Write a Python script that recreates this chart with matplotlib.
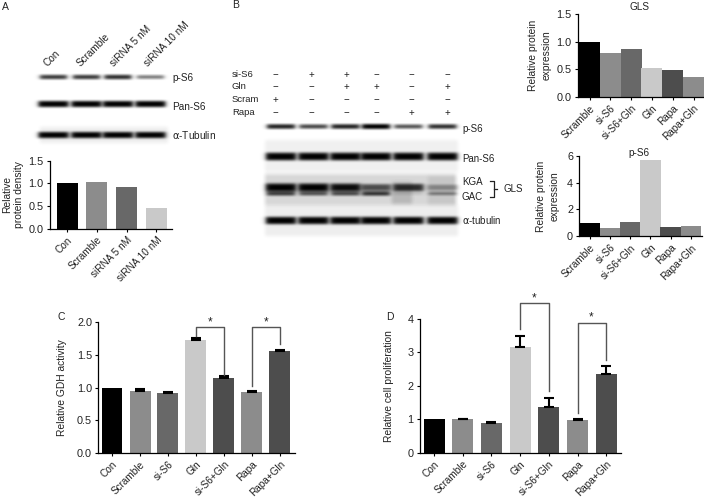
import matplotlib
matplotlib.use("Agg")
import matplotlib.pyplot as plt
import numpy as np

plt.rcParams["font.family"] = ["Liberation Sans", "DejaVu Sans"]
plt.rcParams["font.size"] = 7.2

W, H = 704, 499
BLACK, MID, DARK, LIGHT, DEEP = "#000000", "#8c8c8c", "#686868", "#c9c9c9", "#4d4d4d"
TEXT = "#222222"

# bar charts
a_labels = ["Con", "Scramble", "siRNA 5 nM", "siRNA 10 nM"]
a_values = [1.0, 1.03, 0.93, 0.46]
a_colors = [BLACK, MID, DARK, LIGHT]

b_labels = ["Scramble", "si-S6", "si-S6+Gln", "Gln", "Rapa", "Rapa+Gln"]
b_colors = [BLACK, MID, DARK, LIGHT, DEEP, MID]
gls_values = [1.0, 0.79, 0.87, 0.53, 0.48, 0.37]
ps6_values = [1.0, 0.6, 1.1, 5.65, 0.68, 0.8]

cd_labels = ["Con", "Scramble", "si-S6", "Gln", "si-S6+Gln", "Rapa", "Rapa+Gln"]
cd_colors = [BLACK, MID, DARK, LIGHT, DEEP, MID, DEEP]
gdh_values = [1.0, 0.95, 0.91, 1.72, 1.15, 0.93, 1.56]
gdh_errors = [0, 0.02, 0.015, 0.03, 0.03, 0.01, 0.005]
prolif_values = [1.02, 1.0, 0.89, 3.16, 1.37, 0.99, 2.34]
prolif_errors = [0, 0.01, 0.02, 0.32, 0.26, 0.01, 0.25]

# blot band strengths per lane
a_blot_lanes = [53, 86, 117.5, 150]
a_ps6 = [0.75, 0.75, 0.8, 0.5]
a_pan = [1.0, 1.0, 1.0, 1.0]
a_tub = [1.0, 1.0, 1.0, 1.0]

b_blot_lanes = [280.5, 313, 345, 375.5, 408, 442]
b_ps6 = [0.85, 0.7, 0.85, 1.0, 0.65, 0.8]
b_pan = [1.0, 1.0, 1.0, 1.0, 1.0, 1.0]
b_kga = [1.0, 1.0, 0.95, 0.65, 0.8, 0.35]
b_gac = [0.7, 0.6, 0.65, 0.75, 0.1, 0.4]
b_tub = [1.0, 1.0, 1.0, 1.0, 1.0, 1.0]

# treatment grid of panel B
grid_names = ["si-S6", "Gln", "Scram", "Rapa"]
grid_signs = ["-++---", "--++-+", "+-----", "----++"]
grid_x = [275, 311, 346, 376, 411, 447]
grid_y = [75, 87, 100, 113]


def add_bands(img, lanes, strengths, cy, half_w, thick):
    yy, xx = np.mgrid[0:H, 0:W]
    for cx, s in zip(lanes, strengths):
        across = 0.5 * (np.tanh((xx - cx + half_w) / 2.5) - np.tanh((xx - cx - half_w) / 2.5))
        along = np.exp(-(((yy - cy) / (thick * (0.55 + 0.45 * s))) ** 4))
        img *= 1 - s * across * along


def add_patch_shade(img, x0, x1, y0, y1, level):
    img[y0:y1, x0:x1] = np.minimum(img[y0:y1, x0:x1], level)


def soften(img, size):
    # box blur on the darkness, so the white page edges stay white
    kernel = np.ones(size) / size
    out = np.apply_along_axis(lambda r: np.convolve(r, kernel, mode="same"), 1, 1 - img)
    out = np.apply_along_axis(lambda c: np.convolve(c, kernel, mode="same"), 0, out)
    return 1 - out


canvas = np.ones((H, W))
add_patch_shade(canvas, 40, 168, 127, 143, 0.93)
add_patch_shade(canvas, 265, 458, 140, 172, 0.94)
add_patch_shade(canvas, 265, 456, 174, 205, 0.84)
add_patch_shade(canvas, 265, 458, 205, 236, 0.93)
add_patch_shade(canvas, 392, 412, 182, 204, 0.72)
add_patch_shade(canvas, 428, 456, 176, 205, 0.78)
canvas = soften(canvas, 5)
add_bands(canvas, a_blot_lanes, a_ps6, 76.5, 13.5, 2.6)
add_bands(canvas, a_blot_lanes, a_pan, 103.5, 15, 3.2)
add_bands(canvas, a_blot_lanes, a_tub, 134.5, 15, 3.2)
add_bands(canvas, b_blot_lanes, b_ps6, 126, 14, 2.6)
add_bands(canvas, b_blot_lanes, b_pan, 156, 15, 4.0)
add_bands(canvas, b_blot_lanes, b_kga, 187, 15, 4.2)
add_bands(canvas, b_blot_lanes, b_gac, 193, 14, 2.6)
add_bands(canvas, b_blot_lanes, b_tub, 220, 15, 3.8)
canvas = soften(canvas, 3)

fig = plt.figure(figsize=(W / 100, H / 100), dpi=100)
bg = fig.add_axes([0, 0, 1, 1], zorder=0)
bg.imshow(canvas, cmap="gray", vmin=0, vmax=1, interpolation="bilinear", extent=(0, W, H, 0), aspect="auto")
bg.set_xlim(0, W)
bg.set_ylim(H, 0)
bg.axis("off")


def note(x, y, s, **kw):
    kw.setdefault("ha", "left")
    kw.setdefault("va", "center")
    kw.setdefault("color", TEXT)
    bg.text(x, y, s, **kw)


def bar_panel(left, right, bottom, top, first, step, width, values, colors, labels, ymax, yticks,
              fmt, ylabel, errors=None, lab_x=None, spacing=1.2):
    ax = fig.add_axes([left / W, 1 - bottom / H, (right - left) / W, (bottom - top) / H], zorder=2)
    ax.patch.set_visible(False)
    xs = np.arange(len(values))
    ax.bar(xs, values, width=width / step, color=colors, linewidth=0)
    if errors is not None:
        shown = [i for i, e in enumerate(errors) if e > 0]
        ax.errorbar(shown, [values[i] for i in shown], yerr=[[0] * len(shown), [errors[i] for i in shown]],
                    fmt="none", ecolor="black", elinewidth=1.5, capsize=3.8, capthick=1.5)
    ax.set_xlim((left - first) / step, (right - first) / step)
    ax.set_ylim(0, ymax)
    ax.set_yticks(yticks)
    ax.set_yticklabels([fmt % t for t in yticks], fontsize=7.8, color=TEXT)
    ax.set_xticks(xs)
    ax.set_xticklabels(labels, rotation=45, ha="right", rotation_mode="anchor", color=TEXT)
    ax.tick_params(axis="both", length=2.5, width=0.8, pad=2)
    ax.spines[["top", "right"]].set_visible(False)
    ax.spines[["left", "bottom"]].set_linewidth(0.9)
    note(lab_x, (top + bottom) / 2, ylabel, rotation=90, ha="center", multialignment="center",
         fontsize=7.4, linespacing=spacing)
    return ax


def bracket(ax, x0, x1, y_left, y_right, y_top):
    ax.plot([x0, x0, x1, x1], [y_left, y_top, y_top, y_right], color="#555555", lw=1.0, clip_on=False)


bar_panel(50, 172, 228.7, 160.7, 67, 29.8, 21, a_values, a_colors, a_labels, 1.5, [0, 0.5, 1.0, 1.5],
          "%.1f", "Relative\nprotein density", lab_x=13)
bar_panel(577.7, 704, 97, 14, 589.5, 20.8, 21, gls_values, b_colors, b_labels, 1.5, [0, 0.5, 1.0, 1.5],
          "%.1f", "Relative protein\nexpression", lab_x=540, spacing=1.5)
bar_panel(579.3, 701.7, 236.3, 155.7, 589.5, 20.3, 20.5, ps6_values, b_colors, b_labels, 6, [0, 2, 4, 6],
          "%d", "Relative protein\nexpression", lab_x=548, spacing=1.5)
ax_c = bar_panel(98.3, 295, 453, 322, 112, 28, 21, gdh_values, cd_colors, cd_labels, 2.0,
                 [0, 0.5, 1.0, 1.5, 2.0], "%.1f", "Relative GDH activity", gdh_errors, lab_x=62)
ax_d = bar_panel(420, 620.7, 452.7, 319, 434, 28.7, 21, prolif_values, cd_colors, cd_labels, 4, [0, 1, 2, 3, 4],
                 "%d", "Relative cell proliferation", prolif_errors, lab_x=389)

bracket(ax_c, 3, 4, 1.78, 1.19, 1.93)
bracket(ax_c, 5, 6, 1.03, 1.66, 1.93)
bracket(ax_d, 3, 4, 3.7, 1.86, 4.48)
bracket(ax_d, 5, 6, 1.19, 2.78, 3.89)

# panel letters and stars
note(2, 7, "A", fontsize=7.5)
note(232, 5, "B", fontsize=7.5)
note(58, 317, "C", fontsize=7.5)
note(386, 317, "D", fontsize=7.5)
for x, y in [(210, 322), (266, 322), (534, 298), (591.5, 317)]:
    note(x, y, "*", ha="center", fontsize=8.5)

note(639, 6.5, "GLS", ha="center", fontsize=7.2)
note(639, 152.5, "p-S6", ha="center", fontsize=7.2)

# labels over and beside the blots of panel A
for x, s in zip([49, 82, 115, 149], a_labels):
    note(x, 68, s, rotation=45, rotation_mode="anchor", va="bottom")
note(172, 78, "p-S6")
note(172, 107, "Pan-S6")
note(172, 135, r"$\mathrm{\alpha}$-Tubulin")

# treatment grid
for name, row, y in zip(grid_names, grid_signs, grid_y):
    note(232, y - 0.5, name, fontsize=6.8)
    for x, sign in zip(grid_x, row):
        note(x, y, "+" if sign == "+" else "\u2212", ha="center", fontsize=7)

note(462, 129, "p-S6", fontsize=7)
note(462, 159, "Pan-S6", fontsize=7)
note(462, 182, "KGA", fontsize=7)
note(462, 197, "GAC", fontsize=7)
note(462, 220, r"$\mathrm{\alpha}$-tubulin", fontsize=7)
note(503, 188.5, "GLS", fontsize=7)
bg.plot([490, 494, 494, 490], [181, 181, 197, 197], color="#222222", lw=0.9)
bg.plot([494, 497], [189, 189], color="#222222", lw=0.9)

fig.savefig("out.png", dpi=100)
